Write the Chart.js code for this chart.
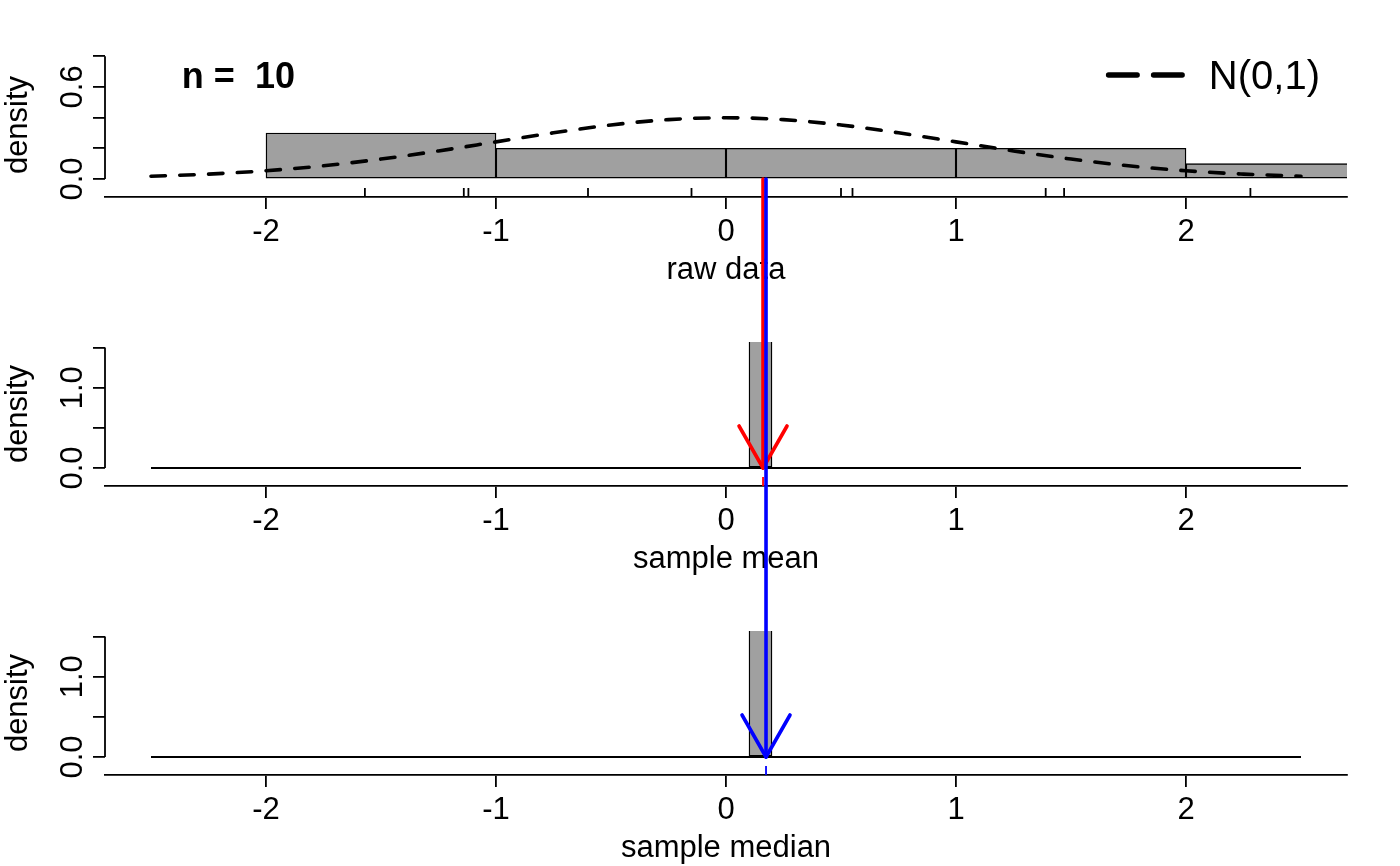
<!DOCTYPE html>
<html lang="en">
<head>
<meta charset="UTF-8">
<title>Sample mean and median, n = 10</title>
<script src="https://cdn.jsdelivr.net/npm/chart.js"></script>
<style>
  body { margin: 0; background: #fff; overflow: hidden; }
  #wrap { position: relative; width: 1400px; height: 866px; }
  #wrap canvas { position: absolute; left: 0; }
</style>
</head>
<body>
<div id="wrap">
  <canvas id="rawChart" width="1400" height="289" style="top:0"></canvas>
  <canvas id="meanChart" width="1400" height="289" style="top:289px"></canvas>
  <canvas id="medianChart" width="1400" height="289" style="top:578px"></canvas>
</div>
<script>
// raw sample
const rawData = [-1.57, -1.14, -1.12, -0.60, -0.15, 0.50, 0.55, 1.39, 1.47, 2.28];
const rawBinMids = [-1.5, -0.5, 0.5, 1.5, 2.5];
const rawDensity = [0.3, 0.2, 0.2, 0.2, 0.1];

// N(0,1) curve
const normX = [-2.5, -2.25, -2, -1.75, -1.5, -1.25, -1, -0.75, -0.5, -0.25, 0,
               0.25, 0.5, 0.75, 1, 1.25, 1.5, 1.75, 2, 2.25, 2.5];
const normY = [0.018, 0.032, 0.054, 0.086, 0.130, 0.183, 0.242, 0.301, 0.352, 0.387, 0.399,
               0.387, 0.352, 0.301, 0.242, 0.183, 0.130, 0.086, 0.054, 0.032, 0.018];

// histograms of the statistics, bins of 0.1 from -2.5 to 2.5
const statBinMids = [
  -2.45, -2.35, -2.25, -2.15, -2.05, -1.95, -1.85, -1.75, -1.65, -1.55,
  -1.45, -1.35, -1.25, -1.15, -1.05, -0.95, -0.85, -0.75, -0.65, -0.55,
  -0.45, -0.35, -0.25, -0.15, -0.05, 0.05, 0.15, 0.25, 0.35, 0.45,
  0.55, 0.65, 0.75, 0.85, 0.95, 1.05, 1.15, 1.25, 1.35, 1.45,
  1.55, 1.65, 1.75, 1.85, 1.95, 2.05, 2.15, 2.25, 2.35, 2.45
];
const statRange = [-2.5, 2.5];
const meanDensity = [
  0, 0, 0, 0, 0, 0, 0, 0, 0, 0,
  0, 0, 0, 0, 0, 0, 0, 0, 0, 0,
  0, 0, 0, 0, 0, 0, 10, 0, 0, 0,
  0, 0, 0, 0, 0, 0, 0, 0, 0, 0,
  0, 0, 0, 0, 0, 0, 0, 0, 0, 0
];
const medianDensity = [
  0, 0, 0, 0, 0, 0, 0, 0, 0, 0,
  0, 0, 0, 0, 0, 0, 0, 0, 0, 0,
  0, 0, 0, 0, 0, 0, 10, 0, 0, 0,
  0, 0, 0, 0, 0, 0, 0, 0, 0, 0,
  0, 0, 0, 0, 0, 0, 0, 0, 0, 0
];
const sampleMean = 0.161;
const sampleMedian = 0.174;

// axes
const xTicks = [-2, -1, 0, 1, 2];
const xTickLabels = ['-2', '-1', '0', '1', '2'];
const rawYTicks = [0, 0.2, 0.4, 0.6, 0.8];
const rawYLabels = ['0.0', '', '', '0.6', ''];
const statYTicks = [0, 0.5, 1, 1.5];
const statYLabels = ['0.0', '', '1.0', ''];

Chart.defaults.font.family = "'Liberation Sans', Arial, sans-serif";
Chart.defaults.font.size = 31;
Chart.defaults.color = '#000';

const GREY = 'rgb(160,160,160)';
const LWD = 1.8;   // R lwd = 1 at this resolution

function xScale(title) {
  return {
    type: 'linear', min: -2.7, max: 2.7, offset: false,
    afterBuildTicks: s => { s.ticks = xTicks.map(v => ({ value: v })); },
    afterFit: s => { s.height = 92; },
    grid: { offset: false, drawOnChartArea: false, tickLength: 12, color: '#000', lineWidth: LWD },
    border: { display: true, color: '#000', width: LWD },
    ticks: { padding: 5, autoSkip: false, maxRotation: 0, callback: (v, i) => xTickLabels[i] },
    title: { display: true, text: title, padding: 0 }
  };
}

function yScale(min, max, ticks, labels) {
  return {
    type: 'linear', min: min, max: max,
    afterBuildTicks: s => { s.ticks = ticks.map(v => ({ value: v })); },
    afterFit: s => { s.width = 105; },
    grid: { drawOnChartArea: false, tickLength: 12, color: '#000', lineWidth: LWD },
    border: { display: false },
    ticks: { minRotation: 90, maxRotation: 90, crossAlign: 'center', padding: -2, autoSkip: false,
             callback: (v, i) => labels[i] },
    title: { display: true, text: 'density', padding: 0 }
  };
}

function seg(ctx, x1, y1, x2, y2, color, w) {
  ctx.beginPath();
  ctx.strokeStyle = color;
  ctx.lineWidth = w;
  ctx.moveTo(x1, y1);
  ctx.lineTo(x2, y2);
  ctx.stroke();
}

// arrow head (R arrows(): length 0.25in, angle 30)
function head(ctx, x, y, color) {
  seg(ctx, x - 24, y - 42, x, y, color, 2 * LWD);
  seg(ctx, x + 24, y - 42, x, y, color, 2 * LWD);
}

// draws R-style y axis line, rug and the arrows that run across the panels
function overlay(id, cfg) {
  return {
    id: id,
    afterDraw(chart) {
      const { ctx, chartArea: a, scales: { x, y } } = chart;
      const y0 = y.getPixelForValue(0);
      ctx.save();
      ctx.lineCap = 'butt';
      seg(ctx, a.left, y0, a.left, y.getPixelForValue(cfg.yTop), '#000', LWD);
      cfg.rug.forEach(r => {
        const px = x.getPixelForValue(r.v);
        seg(ctx, px, a.bottom, px, a.bottom - 9, r.color, LWD);
      });
      ctx.lineCap = 'round';
      cfg.arrows.forEach(ar => {
        const px = x.getPixelForValue(ar.v);
        const top = ar.from === 'zero' ? y0 : 0;
        const bottom = ar.to === 'zero' ? y0 : chart.height;
        seg(ctx, px, top, px, bottom, ar.color, 2 * LWD);
        if (ar.to === 'zero') head(ctx, px, y0, ar.color);
      });
      if (cfg.annotate) {
        // n = 10
        ctx.fillStyle = '#000';
        ctx.font = "bold 36px 'Liberation Sans', Arial, sans-serif";
        ctx.textAlign = 'center';
        ctx.textBaseline = 'alphabetic';
        ctx.fillText('n =  ' + rawData.length, x.getPixelForValue(-2.12), 88);
        // legend
        ctx.font = "40px 'Liberation Sans', Arial, sans-serif";
        ctx.textAlign = 'right';
        const tx = a.right - 27;
        const tw = ctx.measureText('N(0,1)').width;
        ctx.fillText('N(0,1)', tx, 89);
        const end = tx - tw - 24 - 1.5 * LWD;
        ctx.setLineDash([28.6, 16.4]);
        seg(ctx, end - 73.6, 75, end, 75, '#000', 3 * LWD);
        ctx.setLineDash([]);
      }
      ctx.restore();
    }
  };
}

const baseOptions = {
  responsive: false,
  animation: false,
  events: [],
  layout: { padding: { top: 53, right: 53, left: 0, bottom: 0 } },
  plugins: { legend: { display: false }, tooltip: { enabled: false } }
};

function histBars(mids, dens) {
  return {
    type: 'bar', order: 1,
    data: mids.map((m, i) => ({ x: m, y: dens[i] })),
    backgroundColor: GREY, borderColor: '#000', borderWidth: 1.4, borderSkipped: false,
    barPercentage: 1, categoryPercentage: 1
  };
}

function baseline() {
  return {
    type: 'line', order: 0,
    data: statRange.map(v => ({ x: v, y: 0 })),
    borderColor: '#000', borderWidth: LWD, pointRadius: 0
  };
}

// raw data panel
new Chart(document.getElementById('rawChart'), {
  type: 'bar',
  data: {
    datasets: [
      {
        type: 'line', order: 0, label: 'N(0,1)',
        data: normX.map((v, i) => ({ x: v, y: normY[i] })),
        borderColor: '#000', borderWidth: 2 * LWD, borderDash: [8 * LWD, 8 * LWD], borderCapStyle: 'round',
        pointRadius: 0, cubicInterpolationMode: 'monotone', fill: false
      },
      histBars(rawBinMids, rawDensity)
    ]
  },
  options: Object.assign({}, baseOptions, {
    scales: { x: xScale('raw data'), y: yScale(-0.1173, 0.821, rawYTicks, rawYLabels) }
  }),
  plugins: [overlay('rawOverlay', {
    yTop: rawYTicks[rawYTicks.length - 1],
    rug: rawData.map(v => ({ v: v, color: '#000' })),
    arrows: [
      { v: sampleMean, color: 'red', from: 'zero', to: 'edge' },
      { v: sampleMedian, color: 'blue', from: 'zero', to: 'edge' }
    ],
    annotate: true
  })]
});

// sample mean panel
new Chart(document.getElementById('meanChart'), {
  type: 'bar',
  data: { datasets: [baseline(), histBars(statBinMids, meanDensity)] },
  options: Object.assign({}, baseOptions, {
    scales: { x: xScale('sample mean'), y: yScale(-0.224, 1.569, statYTicks, statYLabels) }
  }),
  plugins: [overlay('meanOverlay', {
    yTop: statYTicks[statYTicks.length - 1],
    rug: [{ v: sampleMean, color: 'red' }],
    arrows: [
      { v: sampleMean, color: 'red', from: 'edge', to: 'zero' },
      { v: sampleMedian, color: 'blue', from: 'edge', to: 'edge' }
    ]
  })]
});

// sample median panel
new Chart(document.getElementById('medianChart'), {
  type: 'bar',
  data: { datasets: [baseline(), histBars(statBinMids, medianDensity)] },
  options: Object.assign({}, baseOptions, {
    scales: { x: xScale('sample median'), y: yScale(-0.224, 1.569, statYTicks, statYLabels) }
  }),
  plugins: [overlay('medianOverlay', {
    yTop: statYTicks[statYTicks.length - 1],
    rug: [{ v: sampleMedian, color: 'blue' }],
    arrows: [
      { v: sampleMedian, color: 'blue', from: 'edge', to: 'zero' }
    ]
  })]
});
</script>
</body>
</html>
